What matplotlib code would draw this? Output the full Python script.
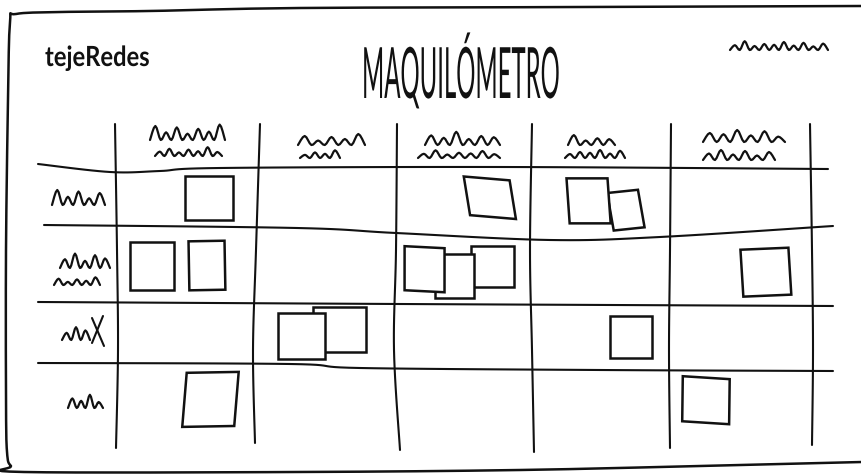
import numpy as np
import matplotlib
matplotlib.use("Agg")
import matplotlib.pyplot as plt
from matplotlib.patches import Polygon
from matplotlib.patheffects import AbstractPathEffect
from matplotlib.transforms import Affine2D

# ---------------- data ----------------
title = "MAQUILÓMETRO"
brand = "tejeRedes"
row0_notes = [1, 0, 1, 2, 0]
row1_notes = [2, 0, 3, 0, 1]
row2_notes = [0, 2, 0, 1, 0]
row3_notes = [1, 0, 0, 0, 1]
note_counts = [row0_notes, row1_notes, row2_notes, row3_notes]

# ---------------- layout (canvas units = pixels) ----------------
W, H = 862, 475
col_edges = [116, 257, 396, 532, 670, 811]
row_edges = [168, 230, 304, 367, 448]
grid_top = 124

# wobble of hand-drawn horizontal lines: (x, dy) pairs
h_wobble = [
    [(38, -4), (110, 4), (160, 3), (220, 0), (500, -1), (828, 1)],
    [(44, -5), (297, -2), (396, 3), (550, 10), (660, 7), (833, -4)],
    [(38, -2), (400, 0), (833, 2)],
    [(38, -4), (290, -3), (360, 1), (600, 3), (833, 4)],
]
# wobble of hand-drawn vertical lines: dx at y = top, 250, 350, bottom
v_wobble = [(-1, 1, 2, 0), (3, -1, -4, -2), (1, 0, -2, 4), (0, -2, 0, 2),
            (1, 0, -1, 0), (-1, 1, 2, 1)]
v_bottoms = [448, 443, 450, 452, 448, 445]

# sticky-note placement inside each cell: (fx, fy, w, h, angle, lean), bottom first
note_layout = {
    (0, 0): [(0.66, 0.48, 48, 44, 0, 0)],
    (0, 2): [(0.69, 0.48, 46, 38, 4.8, 0.25)],
    (0, 3): [(0.68, 0.68, 31, 38, -6, 0.07), (0.41, 0.53, 41, 45, 0, 0.07)],
    (1, 0): [(0.255, 0.49, 44, 48, 0, 0), (0.645, 0.48, 36, 49, -1, 0)],
    (1, 2): [(0.71, 0.49, 43, 41, 0, 0), (0.43, 0.62, 39, 44, 0, 0),
             (0.21, 0.53, 40, 44, 2.9, 0.05)],
    (1, 4): [(0.68, 0.57, 48, 47, -2.4, 0.02)],
    (2, 1): [(0.59, 0.40, 53, 45, 0, 0), (0.32, 0.51, 47, 46, 0, 0)],
    (2, 3): [(0.72, 0.52, 42, 42, 0, 0)],
    (3, 0): [(0.67, 0.40, 52, 54, -1, -0.10)],
    (3, 4): [(0.255, 0.41, 47, 45, 3.6, 0.05)],
}

# scribbled (illegible) labels: (x0, x1, baseline, height, bumps)
scribbles = [
    (150, 225, 140, 14, 7), (155, 222, 156, 8, 7),      # column 1
    (298, 365, 145, 10, 5), (300, 340, 158, 7, 4),      # column 2
    (425, 500, 145, 12, 6), (418, 500, 158, 7, 7),      # column 3
    (568, 615, 145, 9, 4), (565, 625, 158, 8, 6),       # column 4
    (703, 785, 142, 12, 6), (703, 775, 160, 10, 6),     # column 5
    (52, 105, 205, 15, 5),                              # row 1
    (60, 110, 268, 16, 5), (54, 100, 285, 7, 5),        # row 2
    (62, 90, 340, 16, 3),                               # row 3
    (68, 103, 408, 12, 4),                              # row 4
    (730, 828, 50, 8, 10),                              # top right
]
bump_pattern = [1.0, 0.55, 0.9, 0.45, 0.8, 0.6, 1.1, 0.5, 0.75, 0.65]

border_pts = [(862, 6), (600, 7), (300, 8), (150, 11), (60, 12), (16, 14),
              (10, 22), (8, 100), (6, 250), (6, 400), (7, 452), (11, 466),
              (24, 472), (300, 472), (520, 470), (700, 466), (862, 462)]

INK = "#111111"


def smooth(pts, n=10):
    pts = np.asarray(pts, float)
    P = np.vstack([pts[0], pts, pts[-1]])
    out = []
    t = np.linspace(0, 1, n, endpoint=False)[:, None]
    for i in range(1, len(P) - 2):
        p0, p1, p2, p3 = P[i - 1], P[i], P[i + 1], P[i + 2]
        out.append(0.5 * ((2 * p1) + (-p0 + p2) * t
                          + (2 * p0 - 5 * p1 + 4 * p2 - p3) * t ** 2
                          + (-p0 + 3 * p1 - 3 * p2 + p3) * t ** 3))
    out.append(P[-2][None])
    return np.vstack(out)


class Squash(AbstractPathEffect):
    """Scale a text's glyphs about an anchor point (hand-lettering look)."""

    def __init__(self, sx, sy, anchor_fn):
        super().__init__()
        self.sx, self.sy, self.anchor_fn = sx, sy, anchor_fn

    def draw_path(self, renderer, gc, tpath, affine, rgbFace=None):
        cx, cy = self.anchor_fn()
        tr = affine + Affine2D().translate(-cx, -cy).scale(self.sx, self.sy).translate(cx, cy)
        renderer.draw_path(gc, tpath, tr, rgbFace)


fig = plt.figure(figsize=(8.62, 4.75), dpi=100, facecolor="white")
ax = fig.add_axes([0, 0, 1, 1])
ax.set_xlim(0, W)
ax.set_ylim(H, 0)
ax.axis("off")

# border
b = smooth(border_pts, 8)
ax.plot(b[:, 0], b[:, 1], color=INK, lw=1.8, solid_capstyle="round", zorder=1)

# horizontal grid lines
for y0, wob in zip(row_edges, h_wobble):
    pts = [(x, y0 + dy) for x, dy in wob]
    s = smooth(pts, 12)
    ax.plot(s[:, 0], s[:, 1], color=INK, lw=1.5, solid_capstyle="round", zorder=2)

# vertical grid lines
for x0, wob, yb in zip(col_edges, v_wobble, v_bottoms):
    ys = [grid_top, 250, 350, yb]
    pts = [(x0 + dx, y) for dx, y in zip(wob, ys)]
    s = smooth(pts, 12)
    ax.plot(s[:, 0], s[:, 1], color=INK, lw=1.5, solid_capstyle="round", zorder=2)

# sticky notes
for r, row in enumerate(note_counts):
    for c, count in enumerate(row):
        specs = note_layout.get((r, c), [])[:count]
        assert len(specs) == count
        cx0, cx1 = col_edges[c], col_edges[c + 1]
        cy0, cy1 = row_edges[r], row_edges[r + 1]
        for k, (fx, fy, w, h, ang, lean) in enumerate(specs):
            cx = cx0 + fx * (cx1 - cx0)
            cy = cy0 + fy * (cy1 - cy0)
            loc = np.array([(-w / 2 - lean * h / 2, -h / 2), (w / 2 - lean * h / 2, -h / 2),
                            (w / 2 + lean * h / 2, h / 2), (-w / 2 + lean * h / 2, h / 2)])
            th = np.deg2rad(ang)
            R = np.array([[np.cos(th), -np.sin(th)], [np.sin(th), np.cos(th)]])
            corners = loc @ R.T + [cx, cy]
            ax.add_patch(Polygon(corners, closed=True, facecolor="white",
                                 edgecolor=INK, lw=1.8, joinstyle="miter",
                                 zorder=5 + k))

# scribbles
for i, (x0, x1, yb, hgt, n) in enumerate(scribbles):
    xs = np.linspace(x0, x1, 2 * n + 1)
    pts = []
    for j, x in enumerate(xs):
        if j % 2 == 1:
            m = bump_pattern[(j // 2 + i) % len(bump_pattern)]
            pts.append((x, yb - hgt * m))
        else:
            pts.append((x, yb))
    s = smooth(pts, 4)
    ax.plot(s[:, 0], s[:, 1], color=INK, lw=1.6, solid_capstyle="round",
            solid_joinstyle="round", zorder=3)
# the "X" in row 3 label
ax.plot([92, 104], [318, 346], color=INK, lw=1.5, solid_capstyle="round", zorder=3)
ax.plot([103, 92], [316, 343], color=INK, lw=1.5, solid_capstyle="round", zorder=3)

# title and brand
t_title = ax.text(461, 98, title, ha="center", va="baseline", fontsize=51,
                  family=["Lato", "DejaVu Sans"], fontweight="normal", color=INK, zorder=4)
t_brand = ax.text(45, 66, brand, ha="left", va="baseline", fontsize=20,
                  family=["Lato", "DejaVu Sans"], fontweight="bold", color=INK, zorder=4)
fig.canvas.draw()
bt = t_title.get_window_extent()
bb = t_brand.get_window_extent()
sx_title = 198.0 / bt.width
sx_brand = 105.0 / bb.width
t_title.set_path_effects([Squash(sx_title, 1.0, lambda: ax.transData.transform((461, 98)))])
t_brand.set_path_effects([Squash(sx_brand, 1.0, lambda: ax.transData.transform((45, 66)))])

fig.savefig("out.png", dpi=100, facecolor="white")
